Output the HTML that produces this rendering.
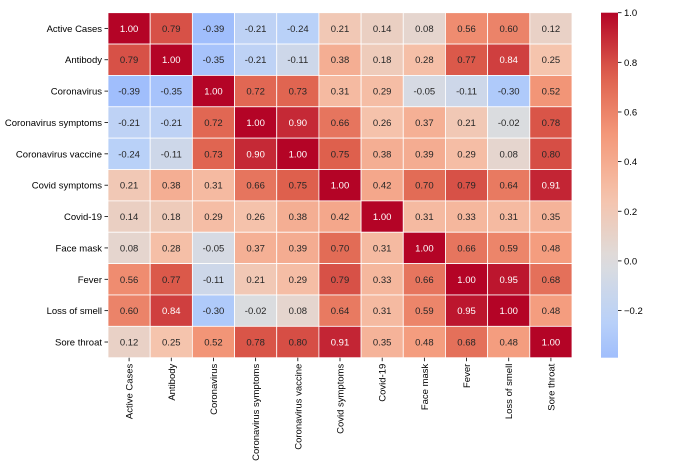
<!DOCTYPE html>
<html><head><meta charset="utf-8"><style>
body{margin:0;background:#fff;}
svg text{font-family:"Liberation Sans","DejaVu Sans",sans-serif;}
</style></head><body>
<svg id="chart" width="697" height="466" xmlns="http://www.w3.org/2000/svg"></svg>
<script>
const labels = ["Active Cases","Antibody","Coronavirus","Coronavirus symptoms","Coronavirus vaccine","Covid symptoms","Covid-19","Face mask","Fever","Loss of smell","Sore throat"];
const row0 = [1.00,0.79,-0.39,-0.21,-0.24,0.21,0.14,0.08,0.56,0.60,0.12];
const row1 = [0.79,1.00,-0.35,-0.21,-0.11,0.38,0.18,0.28,0.77,0.84,0.25];
const row2 = [-0.39,-0.35,1.00,0.72,0.73,0.31,0.29,-0.05,-0.11,-0.30,0.52];
const row3 = [-0.21,-0.21,0.72,1.00,0.90,0.66,0.26,0.37,0.21,-0.02,0.78];
const row4 = [-0.24,-0.11,0.73,0.90,1.00,0.75,0.38,0.39,0.29,0.08,0.80];
const row5 = [0.21,0.38,0.31,0.66,0.75,1.00,0.42,0.70,0.79,0.64,0.91];
const row6 = [0.14,0.18,0.29,0.26,0.38,0.42,1.00,0.31,0.33,0.31,0.35];
const row7 = [0.08,0.28,-0.05,0.37,0.39,0.70,0.31,1.00,0.66,0.59,0.48];
const row8 = [0.56,0.77,-0.11,0.21,0.29,0.79,0.33,0.66,1.00,0.95,0.68];
const row9 = [0.60,0.84,-0.30,-0.02,0.08,0.64,0.31,0.59,0.95,1.00,0.48];
const row10 = [0.12,0.25,0.52,0.78,0.80,0.91,0.35,0.48,0.68,0.48,1.00];
const matrix = [row0,row1,row2,row3,row4,row5,row6,row7,row8,row9,row10];
const cbTicks = [1.0,0.8,0.6,0.4,0.2,0.0,-0.2];
const cbTickLabels = ["1.0","0.8","0.6","0.4","0.2","0.0","−0.2"];

const svg = document.getElementById('chart');
const NS = "http://www.w3.org/2000/svg";
const L=108,T=12.7,W=464,H=345,n=labels.length;
const cw=W/n, ch=H/n;
let vmin=Infinity,vmax=-Infinity;
matrix.forEach(r=>r.forEach(v=>{vmin=Math.min(vmin,v);vmax=Math.max(vmax,v);}));
const stops=[[59,76,192],[98,130,234],[141,176,254],[184,208,249],[221,221,221],[245,196,173],[244,154,123],[222,96,77],[180,4,38]];
function cmap(t){t=Math.max(0,Math.min(1,t));const p=t*8,i=Math.min(7,Math.floor(p)),f=p-i;const a=stops[i],b=stops[i+1];return [0,1,2].map(k=>Math.round(a[k]+(b[k]-a[k])*f));}
const color=v=>cmap((v+1)/2);
function el(tag,attrs,parent){const e=document.createElementNS(NS,tag);for(const k in attrs)e.setAttribute(k,attrs[k]);(parent||svg).appendChild(e);return e;}
const xs=i=>L+i*cw, ys=i=>T+i*ch;
for(let r=0;r<n;r++)for(let c=0;c<n;c++){
  const v=matrix[r][c],col=color(v);
  const rect=el('rect',{x:xs(c),y:ys(r),width:cw,height:ch,fill:`rgb(${col})`,stroke:'#fff','stroke-width':0.8});
  
  
  const lum=0.2126*col[0]/255+0.7152*col[1]/255+0.0722*col[2]/255;
  const t=el('text',{x:xs(c)+cw/2,y:ys(r)+ch/2+3.5,'text-anchor':'middle','font-size':9.5,fill:lum>0.408?'#262626':'#fff'});
  t.textContent=v.toFixed(2);
  
  
}
labels.forEach((lab,i)=>{
  el('line',{x1:L-3.5,x2:L,y1:ys(i)+ch/2,y2:ys(i)+ch/2,stroke:'#000','stroke-width':0.8});
  const t=el('text',{x:L-6,y:ys(i)+ch/2+3.5,'text-anchor':'end','font-size':9.5,fill:'#000'});
  t.textContent=lab;
  
  
  const cx=xs(i)+cw/2;
  el('line',{x1:cx,x2:cx,y1:T+H,y2:T+H+3.5,stroke:'#000','stroke-width':0.8});
  const tx=el('text',{x:0,y:0,'text-anchor':'end','font-size':9.5,fill:'#000',transform:`translate(${cx+3.5},${T+H+6}) rotate(-90)`});
  tx.textContent=lab;
  
  
});
// colorbar
const CX=601,CW=17;
const cbv=v=>T+(vmax-v)/(vmax-vmin)*H;
const defs=el('defs',{});
const g=el('linearGradient',{id:'cbg',x1:0,y1:0,x2:0,y2:1},defs);
for(let k=0;k<=20;k++){const v=vmax-(vmax-vmin)*k/20;el('stop',{offset:k/20,'stop-color':`rgb(${color(v)})`},g);}
const cb=el('rect',{x:CX,y:T,width:CW,height:H,fill:'url(#cbg)'});


cbTicks.forEach((v,i)=>{
  const y=cbv(v);
  el('line',{x1:CX+CW,x2:CX+CW+3.5,y1:y,y2:y,stroke:'#000','stroke-width':0.8});
  const t=el('text',{x:CX+CW+6,y:y+3.5,'font-size':9.5,fill:'#000'});
  t.textContent=cbTickLabels[i];
  
  
});
</script>
</body></html>
